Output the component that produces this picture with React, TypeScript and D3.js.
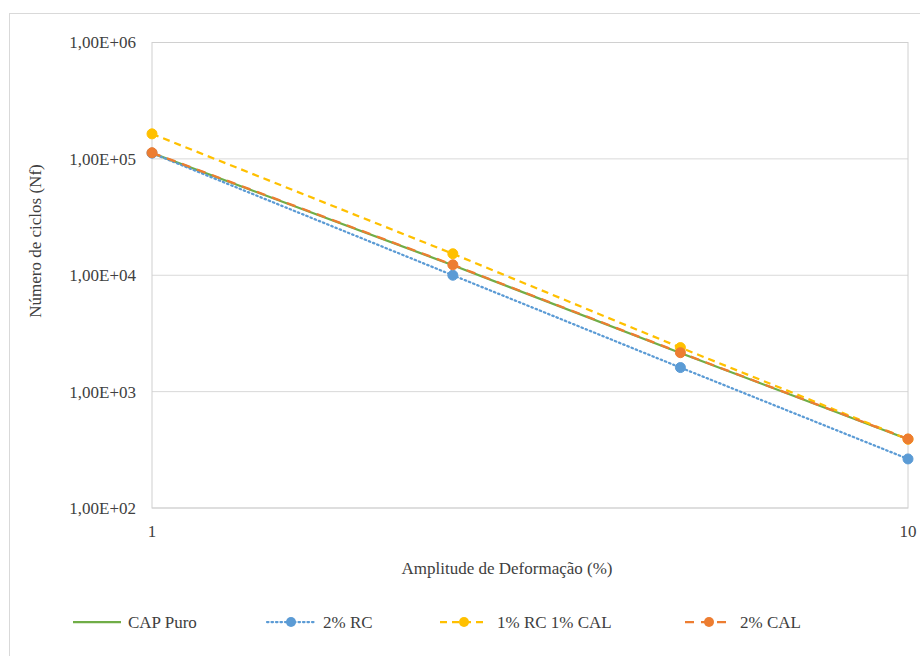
import React from "react";
import * as d3 from "d3";

const xValues = [1, 2.5, 5, 10];
const capPuro = [112000, 12200, 2150, 390];
const rc2 = [112000, 10000, 1610, 264];
const rc1cal1 = [164000, 15300, 2390, 390];
const cal2 = [113000, 12300, 2160, 392];

const seriesNames = ["CAP Puro", "2% RC", "1% RC 1% CAL", "2% CAL"];
const seriesColors = ["#70ad47", "#5b9bd5", "#ffc000", "#ed7d31"];
const seriesDash = ["", "1.5 3", "7 5", "9 7"];
const seriesMarkers = [false, true, true, true];

const yTicks = [100, 1000, 10000, 100000, 1000000];
const yTickLabels = ["1,00E+02", "1,00E+03", "1,00E+04", "1,00E+05", "1,00E+06"];
const xTicks = [1, 10];
const xTickLabels = ["1", "10"];

const W = 920;
const H = 656;
const plot = { left: 152, right: 908, top: 42.5, bottom: 508 };
const FONT = "Times New Roman, Liberation Serif, Tinos, DejaVu Serif, Times, serif";

export default function App() {
  const x = d3.scaleLog().domain([1, 10]).range([plot.left, plot.right]);
  const y = d3.scaleLog().domain([100, 1000000]).range([plot.bottom, plot.top]);
  const allSeries = [capPuro, rc2, rc1cal1, cal2];
  const line = d3
    .line<number>()
    .x((_, i) => x(xValues[i]))
    .y((d) => y(d));

  const legendItems = [
    { lx: 73, tx: 128 },
    { lx: 267, tx: 323 },
    { lx: 440, tx: 497 },
    { lx: 685, tx: 740 },
  ];
  const legendY = 622;
  const tp = { fontFamily: FONT, fontSize: 17, fill: "#404040" };

  return (
    <svg
      width={W}
      height={H}
      style={{ position: "absolute", left: 0, top: 0, background: "#fff" }}
      fontFamily={FONT}
    >
      <rect x={0} y={0} width={W} height={H} fill="#fff" />
      <rect x={9.5} y={13.5} width={W} height={H} fill="none" stroke="#d9d9d9" strokeWidth={1} />
      {yTicks.map((t) => (
        <line key={t} x1={plot.left} x2={plot.right} y1={y(t)} y2={y(t)} stroke="#d9d9d9" strokeWidth={1} />
      ))}
      <rect
        x={plot.left}
        y={plot.top}
        width={plot.right - plot.left}
        height={plot.bottom - plot.top}
        fill="none"
        stroke="#d0d0d0"
        strokeWidth={1}
      />
      {yTicks.map((t, i) => (
        <text key={t} x={136} y={y(t)} dy="0.35em" textAnchor="end" {...tp}>
          {yTickLabels[i]}
        </text>
      ))}
      {xTicks.map((t, i) => (
        <text key={t} x={x(t)} y={537} textAnchor="middle" {...tp}>
          {xTickLabels[i]}
        </text>
      ))}
      <text x={507} y={574} textAnchor="middle" {...tp}>
        Amplitude de Deformação (%)
      </text>
      <text transform={`translate(41, 241) rotate(-90)`} textAnchor="middle" {...tp}>
        Número de ciclos (Nf)
      </text>
      {allSeries.map((s, si) => (
        <g key={si}>
          <path
            d={line(s) || ""}
            fill="none"
            stroke={seriesColors[si]}
            strokeWidth={2.25}
            strokeDasharray={seriesDash[si]}
            strokeLinecap={si === 1 ? "round" : "butt"}
          />
          {seriesMarkers[si] &&
            s.map((v, i) => (
              <circle key={i} cx={x(xValues[i])} cy={y(v)} r={5} fill={seriesColors[si]} stroke={seriesColors[si]} />
            ))}
        </g>
      ))}
      {legendItems.map((it, i) => (
        <g key={i}>
          <line
            x1={it.lx}
            x2={it.lx + 48}
            y1={legendY}
            y2={legendY}
            stroke={seriesColors[i]}
            strokeWidth={2.25}
            strokeDasharray={seriesDash[i]}
            strokeLinecap={i === 1 ? "round" : "butt"}
          />
          {seriesMarkers[i] && <circle cx={it.lx + 24} cy={legendY} r={5} fill={seriesColors[i]} />}
          <text x={it.tx} y={legendY} dy="0.35em" {...tp}>
            {seriesNames[i]}
          </text>
        </g>
      ))}
    </svg>
  );
}
